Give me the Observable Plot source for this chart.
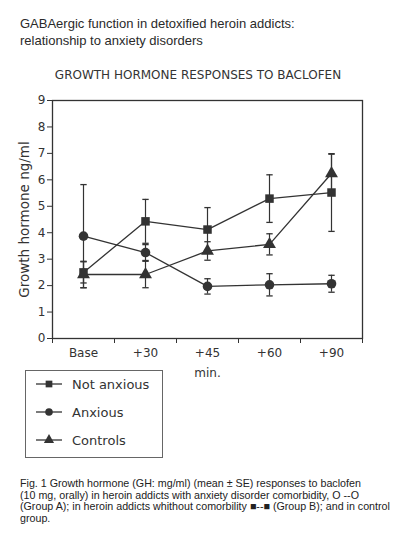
<!DOCTYPE html>
<html>
<head>
<meta charset="utf-8">
<script src="https://cdn.jsdelivr.net/npm/d3@7"></script>
<script src="https://cdn.jsdelivr.net/npm/@observablehq/plot@0.6"></script>
<style>
  html, body { margin: 0; padding: 0; background: #fff; }
  #wrap { position: relative; width: 396px; height: 552px; overflow: hidden; }
  #title { position: absolute; left: 20px; top: 15px; font: 13px "Liberation Sans", Arial, sans-serif; line-height: 17px; color: #2a2a2a; }
  #ctitle { position: absolute; left: 0; width: 396px; top: 68px; text-align: center; font: 12px "DejaVu Sans"; color: #333; }
  #chart { position: absolute; left: 0; top: 60px; }
  #legend { position: absolute; left: 25px; top: 370px; width: 136px; height: 86px; border: 1px solid #666; }
  #caption { position: absolute; left: 20px; top: 478px; width: 376px; white-space: nowrap; font: 10.7px "Liberation Sans", Arial, sans-serif; line-height: 11.7px; color: #222; }
</style>
</head>
<body>
<div id="wrap">
  <div id="title">GABAergic function in detoxified heroin addicts:<br>relationship to anxiety disorders</div>
  <div id="chart"></div>
  <div id="ctitle">GROWTH HORMONE RESPONSES TO BACLOFEN</div>
  <div id="legend"></div>
  <div id="caption">Fig. 1 Growth hormone (GH: mg/ml) (mean ± SE) responses to baclofen<br>(10 mg, orally) in heroin addicts with anxiety disorder comorbidity, O --O<br>(Group A); in heroin addicts whithout comorbility ■--■ (Group B); and in control<br>group.</div>
</div>
<script>
const times = ["Base", "+30", "+45", "+60", "+90"];
const seriesNames = ["Not anxious", "Anxious", "Controls"];
const seriesSymbols = ["square", "circle", "triangle"];
const notAnxious = [2.5, 4.43, 4.12, 5.29, 5.52];
const notAnxiousSE = [0.4, 0.83, 0.83, 0.9, 1.47];
const anxious = [3.87, 3.25, 1.97, 2.03, 2.07];
const anxiousSE = [1.95, 0.3, 0.29, 0.42, 0.32];
const controls = [2.42, 2.42, 3.31, 3.56, 6.24];
const controlsSE = [0.5, 0.5, 0.35, 0.4, 0.73];
const yTicks = [0, 1, 2, 3, 4, 5, 6, 7, 8, 9];

const ink = "#333";
const values = [notAnxious, anxious, controls];
const ses = [notAnxiousSE, anxiousSE, controlsSE];
const data = [];
seriesNames.forEach((name, s) => {
  times.forEach((t, i) => {
    data.push({series: name, symbol: seriesSymbols[s], pos: i + 0.5, time: t, y: values[s][i], lo: values[s][i] - ses[s][i], hi: values[s][i] + ses[s][i]});
  });
});
const centers = times.map((t, i) => i + 0.5);
const bounds = d3.range(times.length + 1);

const cap = {draw(ctx, size) { const w = Math.sqrt(size) * 0.6; ctx.moveTo(-w, 0); ctx.lineTo(w, 0); }};

const chart = Plot.plot({
  width: 396,
  height: 320,
  marginLeft: 52,
  marginRight: 34,
  marginTop: 40,
  marginBottom: 42,
  style: {fontFamily: "DejaVu Sans", fontSize: "12px", color: ink},
  x: {type: "linear", domain: [0, times.length]},
  y: {domain: [0, 9]},
  marks: [
    Plot.frame({stroke: ink, strokeWidth: 1.3}),
    Plot.axisY({ticks: yTicks, tickSize: 5, tickPadding: 2, label: null, tickFormat: d3.format("d")}),
    Plot.axisY({ticks: [], label: "Growth hormone ng/ml", labelAnchor: "center", labelArrow: "none", labelOffset: 33, fontSize: "13.5px"}),
    Plot.axisX({ticks: bounds, tickSize: 5, tickFormat: () => "", label: null}),
    Plot.axisX({ticks: centers, tickSize: 0, tickPadding: 10, tickFormat: d => times[Math.round(d - 0.5)], label: "min.", labelAnchor: "center", labelArrow: "none", labelOffset: 38}),
    Plot.ruleX(data, {x: "pos", y1: "lo", y2: "hi", stroke: ink, strokeWidth: 1.2}),
    Plot.dot(data, {x: "pos", y: "lo", symbol: () => cap, r: 3, stroke: ink, strokeWidth: 1.3}),
    Plot.dot(data, {x: "pos", y: "hi", symbol: () => cap, r: 3, stroke: ink, strokeWidth: 1.3}),
    Plot.line(data, {x: "pos", y: "y", z: "series", stroke: ink, strokeWidth: 1.3}),
    Plot.dot(data, {x: "pos", y: "y", symbol: "symbol", fill: ink, stroke: "none", r: 4.8})
  ]
});
document.getElementById("chart").appendChild(chart);

// legend
const leg = d3.select("#legend");
seriesNames.forEach((name, s) => {
  const row = leg.append("div").style("position", "absolute").style("left", "8px").style("top", (3 + s * 28) + "px").style("height", "20px").style("display", "flex").style("align-items", "center");
  const sv = row.append("svg").attr("width", 30).attr("height", 20);
  sv.append("line").attr("x1", 2).attr("x2", 28).attr("y1", 10).attr("y2", 10).attr("stroke", ink).attr("stroke-width", 1.3);
  const sym = {square: d3.symbolSquare, circle: d3.symbolCircle, triangle: d3.symbolTriangle}[seriesSymbols[s]];
  sv.append("path").attr("d", d3.symbol(sym, 45)()).attr("transform", "translate(15,10)").attr("fill", ink);
  row.append("span").text(name).style("margin-left", "8px").style("font", "13px 'DejaVu Sans'").style("color", "#333");
});
</script>
</body>
</html>
